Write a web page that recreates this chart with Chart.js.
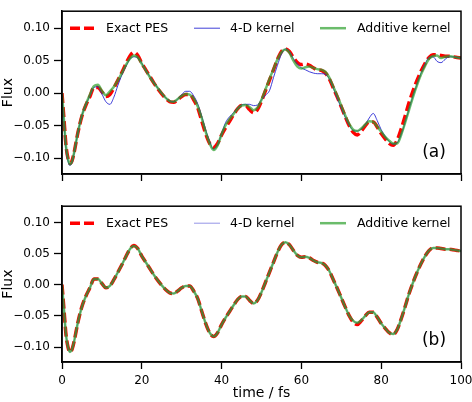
<!DOCTYPE html>
<html>
<head>
<meta charset="utf-8">
<script src="https://cdn.jsdelivr.net/npm/chart.js"></script>
<style>
body { margin: 0; background: #fff; }
#wrap { position: relative; width: 472px; height: 402px; }
canvas { position: absolute; left: 0; }
</style>
</head>
<body>
<div id="wrap">
<canvas id="panelA" width="472" height="195" style="top:0px"></canvas>
<canvas id="panelB" width="472" height="207" style="top:195px"></canvas>
</div>
<script>
// time axis (fs)
let times = [0,0.5,1,1.5,2,2.5,3,
    4,5,6,7,8,9,10,
    11,12,13,14,15,16,17,18,19,20,
    21,22,23,24,25,26,27,28,29,30,
    31,32,33,34,35,36,37,38,39,40,
    41,42,43,44,45,46,47,48,49,50,
    51,52,53,54,55,56,57,58,59,60,
    61,62,63,64,65,66,67,68,69,70,
    71,72,73,74,75,76,77,78,79,80,
    81,82,83,84,85,86,87,88,89,90,
    91,92,93,94,95,96,97,98,99,100];

let exactPES = [0.000,-0.040,-0.080,-0.100,-0.108,-0.104,-0.092,
    -0.060,-0.035,-0.018,-0.005,0.009,0.009,0.002,
    -0.005,-0.002,0.008,0.020,0.032,0.045,0.057,0.063,0.058,0.046,
    0.036,0.026,0.016,0.007,-0.001,-0.008,-0.013,-0.014,-0.010,-0.005,
    -0.002,-0.002,-0.010,-0.022,-0.042,-0.062,-0.077,-0.083,-0.077,-0.064,
    -0.053,-0.043,-0.033,-0.024,-0.019,-0.019,-0.025,-0.030,-0.025,-0.012,
    0.004,0.020,0.036,0.052,0.064,0.068,0.064,0.055,0.047,0.044,
    0.045,0.043,0.039,0.036,0.035,0.031,0.022,0.008,-0.006,-0.021,
    -0.036,-0.050,-0.060,-0.064,-0.058,-0.050,-0.044,-0.044,-0.052,-0.062,
    -0.070,-0.077,-0.080,-0.072,-0.055,-0.035,-0.014,0.004,0.020,0.034,
    0.046,0.055,0.059,0.059,0.058,0.057,0.057,0.056,0.055,0.054];

// panel (a)
let kernel4D_a = [0.000,-0.045,-0.085,-0.104,-0.111,-0.106,-0.093,
    -0.060,-0.034,-0.017,-0.004,0.009,0.010,-0.001,
    -0.013,-0.017,-0.006,0.012,0.028,0.041,0.052,0.056,0.054,0.046,
    0.035,0.026,0.017,0.008,0.000,-0.007,-0.012,-0.013,-0.009,-0.002,
    0.003,0.003,-0.004,-0.016,-0.035,-0.056,-0.074,-0.086,-0.079,-0.062,
    -0.045,-0.036,-0.030,-0.023,-0.018,-0.017,-0.017,-0.019,-0.018,-0.010,
    -0.003,0.004,0.024,0.043,0.060,0.068,0.064,0.053,0.045,0.039,
    0.036,0.033,0.031,0.030,0.030,0.029,0.022,0.008,-0.008,-0.023,
    -0.037,-0.049,-0.057,-0.058,-0.055,-0.048,-0.038,-0.031,-0.042,-0.056,
    -0.066,-0.074,-0.078,-0.076,-0.064,-0.045,-0.024,-0.004,0.014,0.031,
    0.045,0.055,0.056,0.049,0.047,0.052,0.056,0.056,0.055,0.054];

let additive_a = [0.000,-0.042,-0.082,-0.101,-0.109,-0.105,-0.092,
    -0.060,-0.034,-0.017,-0.002,0.011,0.013,0.004,
    -0.003,0.003,0.010,0.020,0.031,0.043,0.053,0.058,0.055,0.045,
    0.035,0.025,0.016,0.008,0.000,-0.007,-0.012,-0.013,-0.009,-0.004,
    -0.001,-0.002,-0.008,-0.020,-0.038,-0.059,-0.077,-0.087,-0.080,-0.063,
    -0.049,-0.040,-0.032,-0.024,-0.019,-0.018,-0.021,-0.026,-0.022,-0.010,
    0.006,0.022,0.037,0.052,0.063,0.067,0.062,0.050,0.041,0.038,
    0.040,0.041,0.039,0.037,0.036,0.033,0.024,0.010,-0.004,-0.019,
    -0.034,-0.047,-0.056,-0.058,-0.054,-0.048,-0.043,-0.044,-0.051,-0.059,
    -0.067,-0.073,-0.077,-0.077,-0.064,-0.045,-0.025,-0.005,0.013,0.029,
    0.042,0.053,0.057,0.058,0.054,0.056,0.057,0.056,0.055,0.054];

// panel (b): both kernels lie on top of each other
let kernel_b = [0.000,-0.040,-0.080,-0.100,-0.108,-0.104,-0.092,
    -0.060,-0.035,-0.018,-0.005,0.009,0.009,0.002,
    -0.005,-0.002,0.008,0.020,0.032,0.045,0.057,0.062,0.058,0.046,
    0.036,0.026,0.016,0.007,-0.001,-0.008,-0.013,-0.014,-0.010,-0.005,
    -0.002,-0.002,-0.010,-0.022,-0.042,-0.062,-0.077,-0.083,-0.077,-0.064,
    -0.053,-0.043,-0.033,-0.024,-0.019,-0.019,-0.025,-0.030,-0.025,-0.012,
    0.004,0.020,0.036,0.052,0.064,0.068,0.064,0.055,0.047,0.044,
    0.045,0.043,0.039,0.036,0.035,0.031,0.022,0.008,-0.006,-0.021,
    -0.036,-0.050,-0.058,-0.061,-0.057,-0.050,-0.044,-0.044,-0.052,-0.062,
    -0.070,-0.077,-0.079,-0.072,-0.055,-0.035,-0.014,0.004,0.020,0.034,
    0.046,0.055,0.059,0.059,0.058,0.057,0.057,0.056,0.055,0.054];

let xTicks = [0, 20, 40, 60, 80, 100];
let yTicks = [-0.10, -0.05, 0.00, 0.05, 0.10];

Chart.defaults.font.family = "'DejaVu Sans', sans-serif";
Chart.defaults.font.size = 12;
Chart.defaults.color = '#000';

function toPoints(arr) {
    let pts = [];
    times.forEach((t, i) => {
        pts.push({x: t, y: arr[i]});
    });
    return pts;
}

function fmt(v) {
    let s = Math.abs(v).toFixed(2);
    return v < -1e-9 ? '\u2212' + s : s;
}

// frame, legend inside the axes and the panel letter
const panelDecor = {
    id: 'panelDecor',
    afterDraw(chart, args, opts) {
        const ctx = chart.ctx;
        const a = chart.chartArea;
        ctx.save();
        ctx.strokeStyle = '#000';
        ctx.lineWidth = 1.5;
        ctx.strokeRect(a.left, a.top, a.right - a.left, a.bottom - a.top);

        let ly = a.top + 17;
        let items = [[8, 44], [132, 168], [258, 295]];
        chart.data.datasets.forEach((ds, i) => {
            let [sx, tx] = items[i];
            ctx.beginPath();
            ctx.strokeStyle = ds.borderColor;
            ctx.lineWidth = ds.borderWidth;
            ctx.setLineDash(ds.borderDash || []);
            ctx.moveTo(a.left + sx, ly);
            ctx.lineTo(a.left + sx + 26, ly);
            ctx.stroke();
            ctx.setLineDash([]);
            ctx.fillStyle = '#000';
            ctx.font = "12.5px 'DejaVu Sans'";
            ctx.textBaseline = 'middle';
            ctx.textAlign = 'left';
            ctx.fillText(ds.label, a.left + tx, ly + 1);
        });

        ctx.font = "17px 'DejaVu Sans'";
        ctx.textAlign = 'center';
        ctx.textBaseline = 'middle';
        ctx.fillText(opts.tag, a.right - 27, a.bottom - 21);
        ctx.restore();
    }
};

function createPanel(id, blueData, greenData, blueColor, tag, showX) {
    let ctx = document.getElementById(id);
    return new Chart(ctx, {
        type: 'line',
        data: {
            datasets: [{
                label: 'Exact PES',
                data: toPoints(exactPES),
                borderColor: '#ff0000',
                borderWidth: 3.5,
                borderDash: [10, 4],
                order: 3
            }, {
                label: '4-D kernel',
                data: toPoints(blueData),
                borderColor: blueColor,
                borderWidth: 1,
                order: 2
            }, {
                label: 'Additive kernel',
                data: toPoints(greenData),
                borderColor: 'rgba(44,160,44,0.7)',
                borderWidth: 2.5,
                order: 1
            }]
        },
        options: {
            responsive: false,
            animation: false,
            events: [],
            elements: {
                point: { radius: 0 },
                line: { cubicInterpolationMode: 'monotone', fill: false }
            },
            layout: { padding: { top: showX ? 4 : 10, right: 11, left: 0, bottom: 0 } },
            scales: {
                x: {
                    type: 'linear',
                    min: 0,
                    max: 100,
                    afterBuildTicks: s => { s.ticks = xTicks.map(v => ({value: v})); },
                    afterFit: s => {
                        s.height = showX ? 40 : 21;
                        s.paddingLeft = 0;
                        s.paddingRight = 0;
                    },
                    ticks: { display: showX, padding: 5, color: '#000' },
                    grid: { drawOnChartArea: false, tickLength: 7, tickWidth: 1.3, tickColor: '#000' },
                    border: { display: true, color: '#000', width: 1.5 },
                    title: { display: showX, text: 'time / fs', color: '#000', font: { size: 14 }, padding: { top: 0, bottom: 0 } }
                },
                y: {
                    min: -0.124,
                    max: 0.126,
                    afterBuildTicks: s => { s.ticks = yTicks.map(v => ({value: v})); },
                    afterFit: s => { s.width = 62; },
                    ticks: { callback: v => fmt(v), padding: 4, color: '#000' },
                    grid: { drawOnChartArea: false, tickLength: 8, tickWidth: 1.3, tickColor: '#000' },
                    border: { display: true, color: '#000', width: 1.5 },
                    title: { display: true, text: 'Flux', color: '#000', font: { size: 14 }, padding: { top: 0, bottom: 0 } }
                }
            },
            plugins: {
                legend: { display: false },
                tooltip: { enabled: false },
                panelDecor: { tag: tag }
            }
        },
        plugins: [panelDecor]
    });
}

createPanel('panelA', kernel4D_a, additive_a, 'rgba(30,30,210,0.85)', '(a)', false);
createPanel('panelB', kernel_b, kernel_b, 'rgba(60,60,210,0.55)', '(b)', true);
</script>
</body>
</html>
